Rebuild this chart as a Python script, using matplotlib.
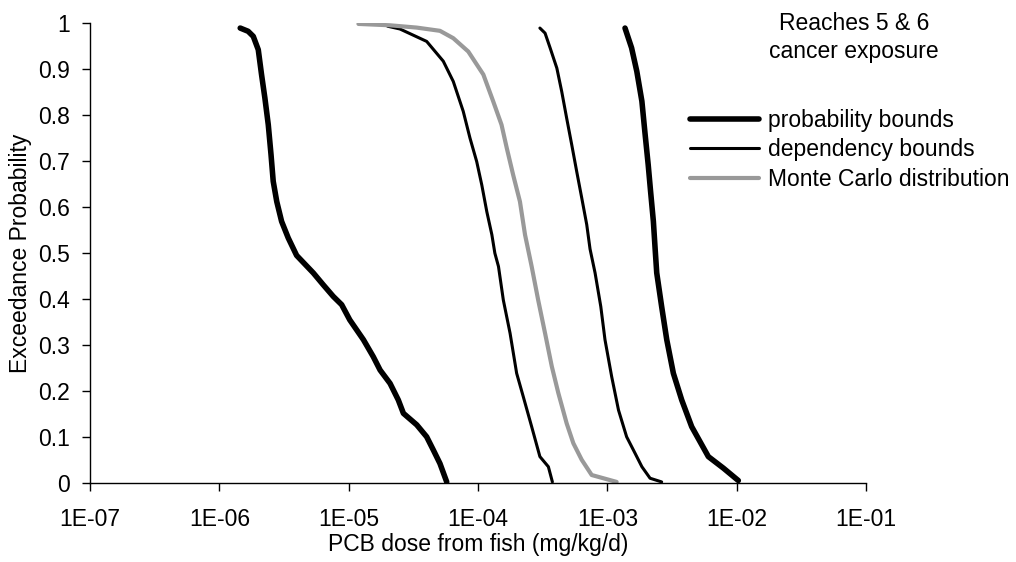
import matplotlib
matplotlib.use("Agg")
import matplotlib.pyplot as plt
from matplotlib.ticker import FixedLocator, FixedFormatter, NullLocator

plt.rcParams['font.family'] = ['Liberation Sans', 'DejaVu Sans']

# Exceedance curves: dose (mg/kg/d) against exceedance probability
pb_lower_x = [1.45e-6, 1.67e-6, 1.83e-6, 2.0e-6, 2.12e-6, 2.25e-6, 2.39e-6, 2.51e-6, 2.61e-6, 2.78e-6,
              3.03e-6, 3.41e-6, 3.96e-6, 5.33e-6, 6.37e-6, 7.6e-6, 8.83e-6, 1.02e-5, 1.3e-5, 1.55e-5,
              1.75e-5, 2.09e-5, 2.42e-5, 2.65e-5, 3.36e-5, 4.01e-5, 4.52e-5, 5.08e-5, 5.73e-5]
pb_lower_y = [0.989, 0.982, 0.971, 0.942, 0.888, 0.837, 0.779, 0.714, 0.656, 0.612,
              0.569, 0.533, 0.495, 0.457, 0.431, 0.406, 0.388, 0.355, 0.312, 0.275,
              0.246, 0.217, 0.181, 0.152, 0.127, 0.101, 0.072, 0.043, 0.003]

pb_upper_x = [1.37e-3, 1.54e-3, 1.69e-3, 1.85e-3, 1.95e-3, 2.07e-3, 2.16e-3, 2.27e-3, 2.34e-3, 2.41e-3,
              2.63e-3, 2.88e-3, 3.24e-3, 3.76e-3, 4.49e-3, 6.04e-3, 7.89e-3, 1.03e-2]
pb_upper_y = [0.989, 0.946, 0.895, 0.830, 0.764, 0.692, 0.634, 0.569, 0.511, 0.457,
              0.384, 0.312, 0.239, 0.181, 0.123, 0.058, 0.033, 0.006]

db_lower_x = [2.0e-5, 2.49e-5, 4.01e-5, 5.39e-5, 6.44e-5, 7.69e-5, 8.67e-5, 9.77e-5, 1.07e-4, 1.17e-4,
              1.28e-4, 1.35e-4, 1.44e-4, 1.57e-4, 1.77e-4, 1.99e-4, 2.24e-4, 2.6e-4, 3.01e-4, 3.5e-4,
              3.76e-4]
db_lower_y = [0.993, 0.987, 0.960, 0.917, 0.873, 0.808, 0.750, 0.699, 0.648, 0.590,
              0.540, 0.500, 0.471, 0.398, 0.326, 0.239, 0.188, 0.123, 0.058, 0.036,
              0.003]

db_upper_x = [3.01e-4, 3.3e-4, 3.61e-4, 4.07e-4, 4.44e-4, 4.85e-4, 5.31e-4, 5.8e-4, 6.34e-4, 6.93e-4,
              7.35e-4, 8.04e-4, 8.9e-4, 9.59e-4, 1.08e-3, 1.22e-3, 1.41e-3, 1.64e-3, 1.85e-3, 2.14e-3,
              2.63e-3]
db_upper_y = [0.989, 0.978, 0.946, 0.902, 0.851, 0.793, 0.735, 0.677, 0.620, 0.562,
              0.509, 0.457, 0.384, 0.312, 0.232, 0.159, 0.101, 0.065, 0.036, 0.011,
              0.003]

mc_x = [1.19e-5, 2.09e-5, 3.36e-5, 5.08e-5, 6.44e-5, 8.41e-5, 1.1e-4, 1.31e-4, 1.52e-4, 1.67e-4,
        1.87e-4, 2.11e-4, 2.31e-4, 2.6e-4, 2.92e-4, 3.3e-4, 3.72e-4, 4.18e-4, 4.85e-4, 5.46e-4,
        6.34e-4, 7.57e-4, 9.31e-4, 1.18e-3]
mc_y = [0.998, 0.995, 0.990, 0.983, 0.967, 0.938, 0.888, 0.830, 0.779, 0.728,
        0.670, 0.612, 0.540, 0.471, 0.398, 0.326, 0.254, 0.196, 0.130, 0.087,
        0.051, 0.018, 0.011, 0.003]

x_ticks = [1e-7, 1e-6, 1e-5, 1e-4, 1e-3, 1e-2, 1e-1]
x_labels = ["1E-07", "1E-06", "1E-05", "1E-04", "1E-03", "1E-02", "1E-01"]
y_ticks = [0, 0.1, 0.2, 0.3, 0.4, 0.5, 0.6, 0.7, 0.8, 0.9, 1.0]
y_labels = ["0", "0.1", "0.2", "0.3", "0.4", "0.5", "0.6", "0.7", "0.8", "0.9", "1"]

FS = 16.5

fig = plt.figure(figsize=(10.16, 5.62), dpi=100)
ax = fig.add_axes([90 / 1016, 1 - 483.3 / 562, (866 - 90) / 1016, (483.3 - 23) / 562])

thick = dict(color="black", lw=4.0, solid_capstyle="round", solid_joinstyle="round")
thin = dict(color="black", lw=2.2, solid_capstyle="round", solid_joinstyle="round")
grey = dict(color="#999999", lw=3.0, solid_capstyle="round", solid_joinstyle="round")

ax.plot(pb_lower_x, pb_lower_y, label="probability bounds", **thick)
ax.plot(pb_upper_x, pb_upper_y, **thick)
ax.plot(db_lower_x, db_lower_y, label="dependency bounds", **thin)
ax.plot(db_upper_x, db_upper_y, **thin)
ax.plot(mc_x, mc_y, label="Monte Carlo distribution", **grey)

ax.set_xscale("log")
ax.set_xlim(1e-7, 1e-1)
ax.set_ylim(0, 1)
ax.xaxis.set_major_locator(FixedLocator(x_ticks))
ax.xaxis.set_major_formatter(FixedFormatter(x_labels))
ax.xaxis.set_minor_locator(NullLocator())
ax.yaxis.set_major_locator(FixedLocator(y_ticks))
ax.yaxis.set_major_formatter(FixedFormatter(y_labels))

for side in ("top", "right"):
    ax.spines[side].set_visible(False)
for side in ("left", "bottom"):
    ax.spines[side].set_linewidth(1.0)
    ax.spines[side].set_color("black")
ax.tick_params(direction="out", length=5.5, width=1.0, labelsize=FS, colors="black")
ax.tick_params(axis="y", pad=9)
ax.tick_params(axis="x", pad=12)

ax.set_xlabel("PCB dose from fish (mg/kg/d)", fontsize=FS, labelpad=2)
ax.set_ylabel("Exceedance Probability", fontsize=FS, labelpad=4)

fig.text(854 / 1016, 1 - 30 / 562, "Reaches 5 & 6", ha="center", va="baseline", fontsize=FS)
fig.text(854 / 1016, 1 - 58 / 562, "cancer exposure", ha="center", va="baseline", fontsize=FS)

leg = ax.legend(loc="upper left", bbox_to_anchor=(690 / 1016, 1 - 109 / 562),
                bbox_transform=fig.transFigure, frameon=False, fontsize=FS,
                handlelength=3.0, handletextpad=0.4, labelspacing=0.28, borderpad=0,
                borderaxespad=0)

fig.savefig("out.png", dpi=100)
